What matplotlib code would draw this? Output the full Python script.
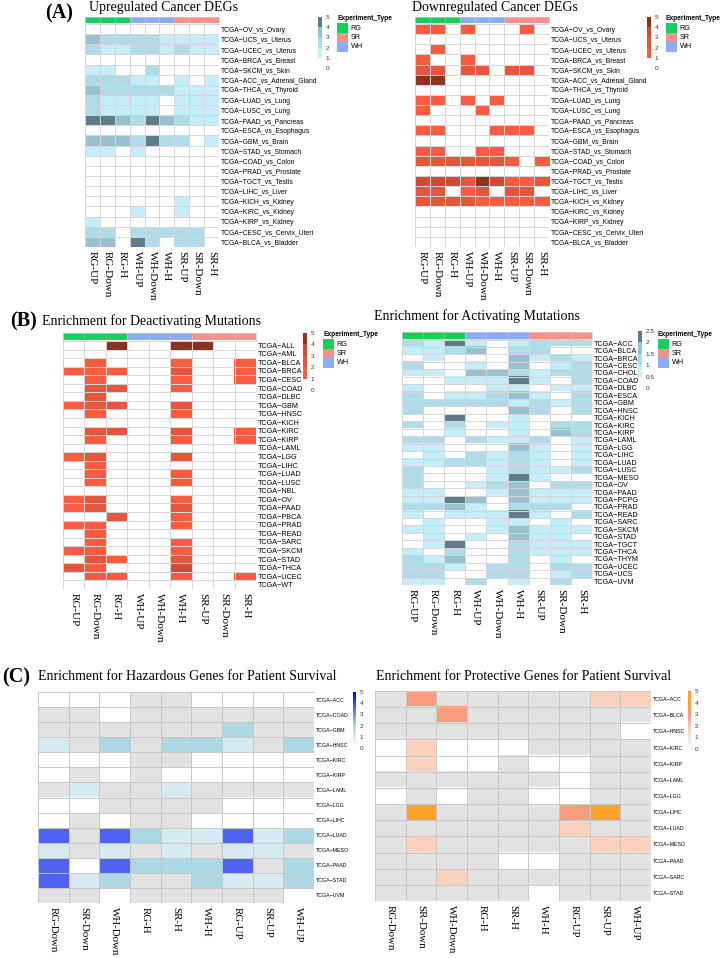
import numpy as np
import matplotlib
matplotlib.use("Agg")
import matplotlib.pyplot as plt
from matplotlib.colors import ListedColormap, LinearSegmentedColormap, Normalize
from matplotlib.cm import ScalarMappable
from matplotlib.patches import Rectangle

SANS = ["Liberation Sans", "DejaVu Sans"]
SERIF = ["Liberation Serif", "DejaVu Serif"]
G = np.nan  # grey cell (no value)

# ── data ────────────────────────────────────────────────────────────────
cols_ab = ["RG-UP", "RG-Down", "RG-H", "WH-UP", "WH-Down", "WH-H", "SR-UP", "SR-Down", "SR-H"]
col_groups = ["RG", "RG", "RG", "WH", "WH", "WH", "SR", "SR", "SR"]
group_colors = {"RG": "#16CF5C", "SR": "#F8918A", "WH": "#89AEF6"}

deg_rows = ["OV_vs_Ovary", "UCS_vs_Uterus", "UCEC_vs_Uterus", "BRCA_vs_Breast", "SKCM_vs_Skin",
            "ACC_vs_Adrenal_Gland", "THCA_vs_Thyroid", "LUAD_vs_Lung", "LUSC_vs_Lung",
            "PAAD_vs_Pancreas", "ESCA_vs_Esophagus", "GBM_vs_Brain", "STAD_vs_Stomach",
            "COAD_vs_Colon", "PRAD_vs_Prostate", "TGCT_vs_Testis", "LIHC_vs_Liver",
            "KICH_vs_Kidney", "KIRC_vs_Kidney", "KIRP_vs_Kidney", "CESC_vs_Cervix_Uteri",
            "BLCA_vs_Bladder"]

up_deg = [
    [0, 0, 0, 0, 0, 0, 0, 0, 0],
    [3, 2, 2, 2, 2, 1, 1, 1, 1],
    [2, 1, 1, 2, 2, 1, 2, 1, 1],
    [0, 0, 0, 0, 0, 0, 0, 0, 0],
    [1, 1, 0, 0, 2, 0, 0, 0, 0],
    [2, 2, 2, 1, 1, 0, 1, 0, 1],
    [3, 2, 2, 2, 2, 2, 1, 1, 1],
    [2, 1, 1, 1, 1, 0, 1, 1, 1],
    [2, 1, 1, 1, 1, 0, 1, 1, 1],
    [4, 4, 3, 2, 4, 3, 2, 1, 1],
    [0, 0, 0, 0, 0, 0, 0, 0, 0],
    [3, 3, 3, 2, 4, 2, 2, 0, 1],
    [1, 1, 0, 1, 0, 0, 0, 0, 0],
    [0, 0, 0, 0, 0, 0, 0, 0, 0],
    [0, 0, 0, 0, 0, 0, 0, 0, 0],
    [0, 0, 0, 0, 0, 0, 0, 0, 0],
    [0, 0, 0, 0, 0, 0, 0, 0, 0],
    [0, 0, 0, 0, 0, 0, 1, 0, 0],
    [0, 0, 0, 1, 0, 0, 1, 0, 0],
    [1, 0, 0, 0, 0, 0, 0, 0, 0],
    [2, 2, 0, 2, 2, 2, 2, 2, 0],
    [3, 3, 0, 4, 2, 0, 2, 2, 0],
]

down_deg = [
    [1, 1, 0, 1, 0, 0, 0, 1, 0],
    [0, 0, 0, 0, 0, 0, 0, 0, 0],
    [0, 1, 0, 0, 0, 0, 0, 0, 0],
    [1, 0, 0, 1, 0, 0, 0, 0, 0],
    [2, 2, 0, 2, 2, 0, 2, 2, 0],
    [4, 4, 0, 0, 0, 0, 0, 0, 0],
    [0, 0, 0, 0, 0, 0, 0, 0, 0],
    [1, 1, 0, 1, 0, 1, 0, 0, 0],
    [1, 0, 0, 0, 1, 0, 0, 0, 0],
    [0, 0, 0, 0, 0, 0, 0, 0, 0],
    [1, 1, 0, 0, 0, 1, 1, 1, 0],
    [0, 0, 0, 0, 0, 0, 0, 0, 0],
    [1, 1, 0, 0, 1, 1, 0, 0, 0],
    [2, 2, 2, 2, 2, 2, 1, 0, 1],
    [0, 0, 0, 0, 0, 0, 0, 0, 0],
    [3, 3, 3, 2, 4, 3, 1, 1, 2],
    [2, 2, 0, 1, 2, 0, 2, 2, 0],
    [2, 2, 2, 2, 1, 1, 1, 1, 1],
    [0, 0, 0, 0, 0, 0, 0, 0, 0],
    [0, 0, 0, 0, 0, 0, 0, 0, 0],
    [0, 0, 0, 0, 0, 0, 0, 0, 0],
    [0, 0, 0, 0, 0, 0, 0, 0, 0],
]

deact_rows = ["ALL", "AML", "BLCA", "BRCA", "CESC", "COAD", "DLBC", "GBM", "HNSC", "KICH",
              "KIRC", "KIRP", "LAML", "LGG", "LIHC", "LUAD", "LUSC", "NBL", "OV", "PAAD",
              "PBCA", "PRAD", "READ", "SARC", "SKCM", "STAD", "THCA", "UCEC", "WT"]
deact = [
    [0, 0, 4, 0, 0, 4, 4, 0, 0],
    [0, 0, 0, 0, 0, 0, 0, 0, 0],
    [0, 1, 0, 0, 0, 1, 0, 0, 1],
    [1, 1, 1, 0, 0, 2, 0, 0, 1],
    [0, 1, 0, 0, 0, 1, 0, 0, 1],
    [0, 2, 2, 0, 0, 1, 0, 0, 0],
    [0, 2, 0, 0, 0, 0, 0, 0, 0],
    [1, 2, 2, 0, 0, 2, 0, 0, 0],
    [0, 1, 0, 0, 0, 1, 0, 0, 0],
    [0, 0, 0, 0, 0, 0, 0, 0, 0],
    [0, 2, 2, 0, 0, 2, 0, 0, 1],
    [0, 1, 0, 0, 0, 1, 0, 0, 1],
    [0, 0, 0, 0, 0, 0, 0, 0, 0],
    [1, 2, 0, 0, 0, 2, 0, 0, 0],
    [0, 1, 0, 0, 0, 0, 0, 0, 0],
    [0, 1, 0, 0, 0, 1, 0, 0, 0],
    [0, 1, 0, 0, 0, 1, 0, 0, 0],
    [0, 0, 0, 0, 0, 0, 0, 0, 0],
    [1, 2, 0, 0, 0, 1, 0, 0, 0],
    [1, 2, 0, 0, 0, 2, 0, 0, 0],
    [0, 0, 2, 0, 0, 1, 0, 0, 0],
    [1, 1, 0, 0, 0, 1, 0, 0, 0],
    [0, 1, 0, 0, 0, 0, 0, 0, 0],
    [0, 1, 0, 0, 0, 1, 0, 0, 0],
    [1, 1, 0, 0, 0, 1, 0, 0, 0],
    [0, 2, 1, 0, 0, 2, 0, 0, 0],
    [2, 1, 0, 0, 0, 3, 0, 0, 0],
    [0, 1, 1, 0, 0, 1, 0, 0, 1],
    [0, 0, 0, 0, 0, 0, 0, 0, 0],
]

act_rows = ["ACC", "BLCA", "BRCA", "CESC", "CHOL", "COAD", "DLBC", "ESCA", "GBM", "HNSC",
            "KICH", "KIRC", "KIRP", "LAML", "LGG", "LIHC", "LUAD", "LUSC", "MESO", "OV",
            "PAAD", "PCPG", "PRAD", "READ", "SARC", "SKCM", "STAD", "TGCT", "THCA", "THYM",
            "UCEC", "UCS", "UVM"]
act = [
    [1.2, 0.7, 2.3, 0.7, 0, 0.7, 1.2, 1.2, 1.2],
    [0.7, 0.7, 1.2, 1.7, 0, 1.2, 1.2, 0, 0],
    [0, 0.7, 0, 0, 0, 1.7, 0.7, 1.2, 0.7],
    [1.2, 0, 0, 0.7, 0, 1.7, 0, 0.7, 1.2],
    [0.7, 0.7, 0, 1.7, 1.7, 1.2, 0.7, 1.2, 1.2],
    [0, 0, 0.7, 0.7, 0.7, 2.3, 0.7, 0, 1.2],
    [0.7, 0, 0, 0, 0.7, 0.7, 0, 0.7, 0.7],
    [1.2, 0, 0.7, 0.7, 1.2, 1.7, 0.7, 0, 1.2],
    [1.2, 1.2, 1.2, 1.2, 1.2, 0.7, 1.2, 0.7, 1.2],
    [1.2, 0, 0, 0, 0, 1.7, 1.2, 0, 1.2],
    [0, 0, 2.3, 0, 0, 0.7, 0, 0, 0],
    [1.2, 0, 1.2, 0, 0.7, 0.7, 0, 1.2, 1.2],
    [0, 0, 0.7, 0, 0, 0.7, 0, 1.7, 1.2],
    [1.2, 1.2, 0, 1.2, 0.7, 0.7, 1.2, 0, 0.7],
    [0.7, 0.7, 0, 0, 0, 1.7, 0.7, 0, 0.7],
    [0, 0.7, 0, 1.2, 0.7, 1.2, 0.7, 0, 0.7],
    [0.7, 0.7, 1.2, 1.2, 0.7, 1.2, 0.7, 0, 0.7],
    [1.2, 0, 0, 0, 0.7, 1.2, 0.7, 0.7, 1.2],
    [1.2, 0, 0, 0, 0.7, 2.3, 0.7, 0, 0],
    [1.2, 0, 0, 0.7, 1.2, 1.7, 0, 1.2, 1.2],
    [0.7, 0.7, 0, 0, 0.7, 1.7, 0.7, 0.7, 0.7],
    [0.7, 0.7, 2.3, 1.7, 0, 1.7, 0.7, 0.7, 0.7],
    [1.2, 1.2, 1.7, 0.7, 0, 1.2, 1.2, 1.2, 0],
    [0.7, 0, 0.7, 0.7, 0.7, 2.3, 0.7, 0, 1.2],
    [0, 0.7, 0, 0, 0.7, 0.7, 0, 0.7, 0],
    [0.7, 0.7, 0, 0, 0.7, 1.7, 0.7, 0.7, 0.7],
    [0, 0.7, 0, 0.7, 0, 1.7, 0.7, 0.7, 0],
    [0, 0.7, 2.3, 0, 0, 1.2, 0.7, 0.7, 0.7],
    [0.7, 0, 1.2, 0, 0, 1.2, 0.7, 0.7, 0.7],
    [1.2, 0.7, 1.7, 0, 0, 1.2, 0, 0.7, 0],
    [1.2, 1.2, 0.7, 0, 1.2, 1.2, 0, 1.2, 1.2],
    [1.2, 1.2, 0, 0, 1.2, 1.2, 0, 0.7, 1.2],
    [0.7, 0.7, 0, 1.2, 0, 0.7, 0, 1.2, 0],
]

cols_c = ["RG-Down", "SR-Down", "WH-Down", "RG-H", "SR-H", "WH-H", "RG-UP", "SR-UP", "WH-UP"]

haz_rows = ["ACC", "COAD", "GBM", "HNSC", "KIRC", "KIRP", "LAML", "LGG", "LIHC", "LUAD",
            "MESO", "PAAD", "STAD", "UVM"]
hazard = [
    [0, 0, 0, G, G, 0, 0, 0, 0],
    [G, G, 0, G, G, G, G, G, G],
    [G, G, G, G, G, G, 2, G, G],
    [1, G, 2, G, 2, 2, 1, G, 2],
    [0, 0, 0, G, G, 0, 0, 0, 0],
    [0, G, 0, G, 0, 0, 0, 0, 0],
    [G, 1, G, G, 1, G, G, G, G],
    [0, 0, G, G, G, G, 0, 0, 0],
    [0, G, 0, G, G, 0, 0, 0, 0],
    [3.6, G, 3.6, 2, 1, 1, 3.6, 1, 2],
    [1, G, 1, G, 1, G, 1, 1, G],
    [3.6, 0, 3.6, 2, 2, 2, 3.6, G, 2],
    [3.6, 1, 2, G, G, 2, 1, 1, 2],
    [G, G, 0, G, G, G, G, G, 0],
]

prot_rows = ["ACC", "BLCA", "HNSC", "KIRC", "KIRP", "LAML", "LGG", "LIHC", "LUAD", "MESO",
             "PAAD", "SARC", "STAD"]
protect = [
    [G, 2.9, G, G, G, G, G, 1.6, 1.6],
    [G, G, 2.9, G, G, G, G, G, G],
    [G, G, G, G, G, G, G, G, 0],
    [0, 1.6, 0, 0, 0, G, G, G, G],
    [0, 1.6, 0, 0, G, 0, 0, G, G],
    [G, G, G, G, G, G, 0, G, G],
    [0, G, 0, G, G, 0, 0, G, G],
    [G, 4.3, G, G, G, G, 2.9, 4.3, G],
    [G, G, G, G, G, G, 1.6, G, G],
    [G, 1.6, G, G, G, G, G, 1.6, 1.6],
    [G, G, G, G, 0, 0, G, G, G],
    [G, G, 1.6, G, G, G, G, G, G],
    [G, G, G, G, G, 0, G, G, G],
]

# ── colours ─────────────────────────────────────────────────────────────
blue_steps = ListedColormap(["#FFFFFF", "#C5EEFA", "#B0DCE9", "#99C2D0", "#5F7C88"])
red_steps = ListedColormap(["#FFFFFF", "#FD5B41", "#E6553E", "#CF4B35", "#8A3323"])
haz_cmap = LinearSegmentedColormap.from_list("haz", [(0, "#FFFFFF"), (0.4, "#ADD8E6"), (1, "#0000FF")])
prot_cmap = LinearSegmentedColormap.from_list(
    "prot", [(0, "#FFFFFF"), (0.3, "#FDD5C2"), (0.6, "#FA9A78"), (1, "#FFA500")])
NA_GREY = "#E3E3E3"

W, H = 723, 958
fig = plt.figure(figsize=(W / 100, H / 100), dpi=100)


def px_axes(x0, y0, x1, y1):
    return fig.add_axes([x0 / W, 1 - y1 / H, (x1 - x0) / W, (y1 - y0) / H])


def heatmap(box, data, cmap, norm, rows, cols, row_fs, col_fs, grid, col_pad=3):
    ax = px_axes(*box)
    arr = np.ma.masked_invalid(np.array(data, dtype=float))
    ax.set_facecolor(NA_GREY)
    ax.imshow(arr, cmap=cmap, norm=norm, aspect="auto", interpolation="nearest")
    nr, nc = arr.shape
    ax.set_xticks(np.arange(nc + 1) - 0.5, minor=True)
    ax.set_yticks(np.arange(nr + 1) - 0.5, minor=True)
    ax.grid(which="minor", color=grid, lw=0.7)
    ax.yaxis.tick_right()
    ax.set_yticks(range(nr))
    ax.set_yticklabels(rows, fontsize=row_fs, family=SANS)
    ax.set_xticks(range(nc))
    ax.set_xticklabels(cols, rotation=270, fontsize=col_fs, family=SERIF, va="top")
    ax.tick_params(which="both", length=0)
    ax.tick_params(axis="y", pad=1.5)
    ax.tick_params(axis="x", pad=col_pad)
    for s in ax.spines.values():
        s.set_visible(False)
    return ax


def annot_bar(x0, y0, x1, y1):
    ax = px_axes(x0, y0, x1, y1)
    names = ["RG", "WH", "SR"]
    idx = [[names.index(g) for g in col_groups]]
    ax.imshow(idx, cmap=ListedColormap([group_colors[n] for n in names]), vmin=0, vmax=2,
              aspect="auto", interpolation="nearest")
    ax.set_xticks(np.arange(len(col_groups) + 1) - 0.5, minor=True)
    ax.grid(which="minor", axis="x", color="#DDDDDD", lw=0.4, alpha=0.6)
    ax.set_xticks([])
    ax.set_yticks([])
    ax.tick_params(which="both", length=0)
    for s in ax.spines.values():
        s.set_color("#CCCCCC")
        s.set_linewidth(0.5)


def cbar(x0, y0, x1, y1, cmap, norm, ticks, labels):
    ax = px_axes(x0, y0, x1, y1)
    cb = fig.colorbar(ScalarMappable(norm=norm, cmap=cmap), cax=ax)
    cb.outline.set_visible(False)
    cb.set_ticks(ticks)
    cb.set_ticklabels(labels)
    ax.tick_params(length=0, labelsize=4.6, pad=2.5, labelcolor="#333333")
    for t in ax.get_yticklabels():
        t.set_family(SANS)


def exp_legend(x, y):
    fig.text(x / W, 1 - y / H, "Experiment_Type", fontsize=4.8, fontweight="bold",
             family=SANS, va="center", ha="left")
    for i, g in enumerate(["RG", "SR", "WH"]):
        top = y + 4.5 + i * 9.4
        fig.add_artist(Rectangle((x / W, 1 - (top + 9.2) / H), 10.5 / W, 9.2 / H,
                                 transform=fig.transFigure, color=group_colors[g], lw=0))
        fig.text((x + 13.5) / W, 1 - (top + 4.6) / H, g, fontsize=5.2, family=SANS,
                 va="center", ha="left")


def title(x, y, s, size=10):
    fig.text(x / W, 1 - y / H, s, fontsize=size, family=SERIF, va="center", ha="left")


def tag(x, y, s):
    fig.text(x / W, 1 - y / H, s, fontsize=14.5, family=SERIF, fontweight="bold",
             va="center", ha="left")


five_norm = Normalize(0, 5)
ticks5 = [0, 1, 2, 3, 4, 5]

# ── (A) ─────────────────────────────────────────────────────────────────
deg_labels = ["TCGA\u2212" + r for r in deg_rows]
tag(45, 13, "(A)")
title(89, 7, "Upregulated Cancer DEGs")
annot_bar(85, 17, 219, 23.5)
heatmap((85, 24, 219, 247), up_deg, blue_steps, five_norm, deg_labels, cols_ab, 4.9, 8, "#D6D6D6")
cbar(318, 17, 322, 68, blue_steps, five_norm, ticks5, [str(t) for t in ticks5])
exp_legend(337, 19)

title(412, 7, "Downregulated Cancer DEGs")
annot_bar(415, 17, 549, 23.5)
heatmap((415, 24, 549, 247), down_deg, red_steps, five_norm, deg_labels, cols_ab, 4.9, 8, "#D6D6D6")
cbar(647, 17, 651, 68, red_steps, five_norm, ticks5, [str(t) for t in ticks5])
exp_legend(666, 19)

# ── (B) ─────────────────────────────────────────────────────────────────
tag(10, 321, "(B)")
title(42, 321, "Enrichment for Deactivating Mutations")
annot_bar(63, 333, 256, 340.5)
heatmap((63, 341, 256, 589), deact, red_steps, five_norm,
        ["TCGA\u2212" + r for r in deact_rows], cols_ab, 5.2, 8, "#D6D6D6")
cbar(303, 333, 307, 390, red_steps, five_norm, ticks5, [str(t) for t in ticks5])
exp_legend(323, 335)

act_norm = Normalize(0, 2.5)
title(374, 316, "Enrichment for Activating Mutations")
annot_bar(402, 332, 592, 339)
heatmap((402, 339.5, 592, 585), act, blue_steps, act_norm,
        ["TCGA\u2212" + r for r in act_rows], cols_ab, 5.2, 8, "#D6D6D6")
cbar(638, 331, 642, 388, blue_steps, act_norm, [0, 0.5, 1, 1.5, 2, 2.5],
     ["0", "0.5", "1", "1.5", "2", "2.5"])
exp_legend(658, 335)

# ── (C) ─────────────────────────────────────────────────────────────────
tag(2, 677, "(C)")
title(38, 677, "Enrichment for Hazardous Genes for Patient Survival")
heatmap((38, 692, 314, 903), hazard, haz_cmap, five_norm,
        ["TCGA\u2212" + r for r in haz_rows], cols_c, 3.8, 7.8, "#C8C8C8", col_pad=3)
cbar(353, 692, 356, 748, haz_cmap, five_norm, ticks5, [str(t) for t in ticks5])

title(376, 676, "Enrichment for Protective Genes for Patient Survival")
heatmap((375, 691, 651, 901), protect, prot_cmap, five_norm,
        ["TCGA\u2212" + r for r in prot_rows], cols_c, 3.8, 7.8, "#C8C8C8", col_pad=3)
cbar(688, 691, 691, 749, prot_cmap, five_norm, ticks5, [str(t) for t in ticks5])

fig.savefig("out.png", dpi=100, facecolor="white")
